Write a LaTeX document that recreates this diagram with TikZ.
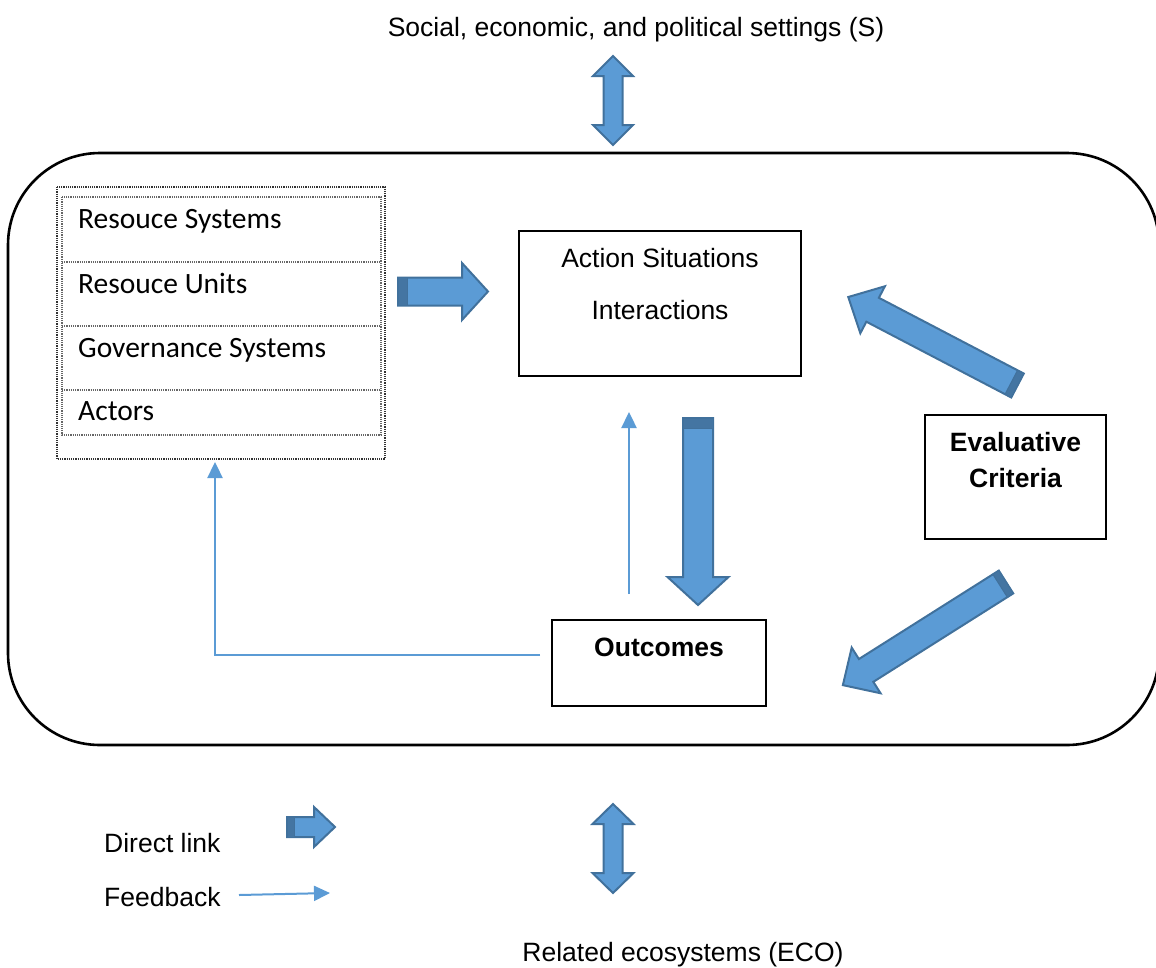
\documentclass[tikz,border=0pt]{standalone}
\usepackage{fontspec}
\setmainfont{Liberation Sans}
\newfontfamily\listfont{Carlito}
\usetikzlibrary{arrows.meta}

\definecolor{arrowfill}{HTML}{5B9BD5}
\definecolor{arrowedge}{HTML}{41719C}

% Block arrow: tail centre (#1,#2), angle #3, length #4,
% shaft half-width #5, head half-width #6, head length #7, tail band #8
\newcommand\blockarrow[8]{%
  \begin{scope}[shift={(#1,#2)},rotate=#3]
    \filldraw[blockstyle] (0,-#5) -- ({#4-#7},-#5) -- ({#4-#7},-#6) -- (#4,0)
      -- ({#4-#7},#6) -- ({#4-#7},#5) -- (0,#5) -- cycle;
    \filldraw[bandstyle] (0,-#5) rectangle (#8,#5);
  \end{scope}}

% Vertical double-headed block arrow at x=#1 from y=#2 to y=#3
\newcommand\dblarrow[6]{%
  \filldraw[blockstyle] (#1,#2) -- ({#1+#5},{#2+#6}) -- ({#1+#4},{#2+#6})
    -- ({#1+#4},{#3-#6}) -- ({#1+#5},{#3-#6}) -- (#1,#3)
    -- ({#1-#5},{#3-#6}) -- ({#1-#4},{#3-#6}) -- ({#1-#4},{#2+#6})
    -- ({#1-#5},{#2+#6}) -- cycle;}

\tikzset{
  blockstyle/.style={fill=arrowfill, draw=arrowedge, line width=2pt, line join=miter},
  bandstyle/.style={fill=arrowedge!90!arrowfill, draw=arrowedge, line width=1pt},
  fbline/.style={draw=arrowfill, line width=2.4pt,
    -{Triangle[length=16pt,width=15pt]}},
  box/.style={draw=black, line width=1.3pt, rectangle, inner sep=0pt},
  lbl/.style={inner sep=0pt, anchor=base, font=\fontsize{26.5}{30}\selectfont},
  blbl/.style={lbl, font=\fontsize{26.5}{30}\selectfont\bfseries},
  item/.style={inner sep=0pt, anchor=base west, font=\listfont\fontsize{29.5}{33}\selectfont},
  dotline/.style={draw=black!60, line width=1.2pt, densely dotted},
}

\begin{document}
\begin{tikzpicture}[x=1pt,y=-1pt]
\useasboundingbox (0,0) rectangle (1156,967);

% outer system frame
\draw[line width=2.6pt, rounded corners=92pt] (8,153) rectangle (1159,745);

% context labels
\node[lbl] (soc) at (636,36) {Social, economic, and political settings (S)};
\node[lbl] (eco) at (683,961) {Related ecosystems (ECO)};

% first-tier variables list
\draw[dotline, draw=black!80] (57,187) rectangle (385,459);
\draw[dotline] (62,197) rectangle (381,435);
\draw[dotline] (62,262) -- (381,262);
\draw[dotline] (62,326) -- (381,326);
\draw[dotline] (62,390) -- (381,390);
\node[item] (rs) at (78,228) {Resouce Systems};
\node[item] (ru) at (78,293) {Resouce Units};
\node[item] (gs) at (78,357) {Governance Systems};
\node[item] (ac) at (78,420) {Actors};

% action situations
\node[box, minimum width=282pt, minimum height=145pt] (act) at (660,303.5) {};
\node[lbl] (actA) at (660,267) {Action Situations};
\node[lbl] (actB) at (660,319) {Interactions};

% evaluative criteria
\node[box, minimum width=181pt, minimum height=124pt] (eval) at (1015.5,477) {};
\node[blbl] (evalA) at (1015.5,451) {Evaluative};
\node[blbl] (evalB) at (1015.5,487) {Criteria};

% outcomes
\node[box, minimum width=214pt, minimum height=86pt] (out) at (659,663) {};
\node[blbl] (outA) at (659,656) {Outcomes};

% direct links
\blockarrow{398}{291.5}{0}{90}{14}{28.5}{26}{9}
\blockarrow{698}{418}{-90}{187}{15}{30.5}{28}{10}
\blockarrow{1017.5}{385.5}{152.4}{191}{13.5}{26.5}{27.5}{7}
\blockarrow{1006}{582}{212.3}{193}{13.5}{27}{27.5}{7}

% links to the surrounding settings
\dblarrow{613}{56}{145}{9.5}{20}{20}
\dblarrow{613}{804}{893}{9.5}{20.5}{20}

% feedback links
\coordinate (upS) at (629,594);
\coordinate (upE) at (629,412);
\draw[fbline] (upS) -- (upE);
\coordinate (fbS) at (540,655);
\coordinate (fbE) at (215,462);
\draw[fbline] (fbS) -| (fbE);

% legend
\node[lbl, anchor=base west] (lgA) at (104,852) {Direct link};
\node[lbl, anchor=base west] (lgB) at (104,906) {Feedback};
\blockarrow{287}{827}{0}{48}{10}{20}{21}{7}
\coordinate (lgS) at (239,895);
\coordinate (lgE) at (330,893);
\draw[fbline, line width=2pt] (lgS) -- (lgE);
\end{tikzpicture}
\end{document}
